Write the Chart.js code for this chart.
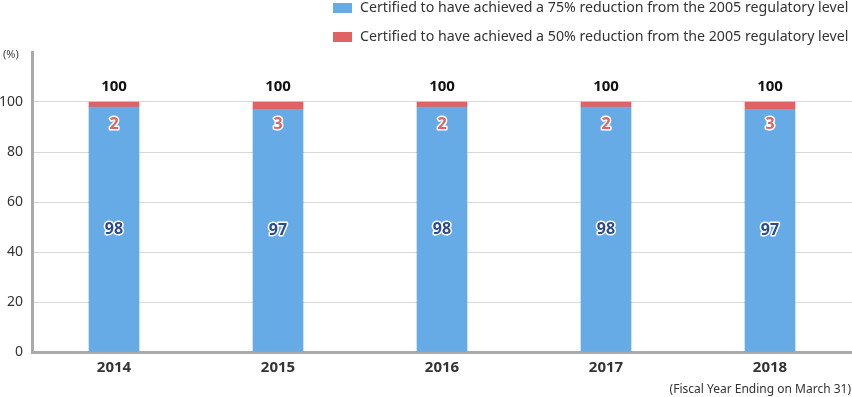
<!DOCTYPE html>
<html><head><meta charset="utf-8">
<script src="https://cdn.jsdelivr.net/npm/chart.js@4"></script>
<style>html,body{margin:0;padding:0;background:#fff}#wrap{width:852px;height:397px;position:relative}</style>
</head><body><div id="wrap"><canvas id="c"></canvas></div>
<script>
const categories = ["2014", "2015", "2016", "2017", "2018"];
const reduction75 = [98, 97, 98, 98, 97];
const reduction50 = [2, 3, 2, 2, 3];
const totals = [100, 100, 100, 100, 100];
const yTicks = [0, 20, 40, 60, 80, 100];
const seriesNames = [
  "Certified to have achieved a 75% reduction from the 2005 regulatory level",
  "Certified to have achieved a 50% reduction from the 2005 regulatory level"
];
const BLUE = "#66abe6", RED = "#e06262";
const FONT = "'Noto Sans', sans-serif";

const labelPlugin = {
  id: "labels",
  afterDatasetsDraw(chart) {
    const ctx = chart.ctx;
    const y = chart.scales.y;
    ctx.save();
    ctx.textAlign = "center";
    ctx.textBaseline = "middle";
    const m0 = chart.getDatasetMeta(0), m1 = chart.getDatasetMeta(1);
    m0.data.forEach((bar, i) => {
      const x = bar.x;
      ctx.font = "bold 15px " + FONT;
      ctx.fillStyle = "#111";
      ctx.fillText(String(totals[i]), x, m1.data[i].y - 15);
      ctx.font = "bold 16px " + FONT;
      ctx.lineJoin = "round";
      ctx.lineWidth = 3;
      ctx.strokeStyle = "#fff";
      const ym = (bar.y + bar.base) / 2;
      ctx.strokeText(String(reduction75[i]), x, ym);
      ctx.fillStyle = "#2c4a8e";
      ctx.fillText(String(reduction75[i]), x, ym);
      const yr = y.getPixelForValue(100) + 22;
      ctx.strokeText(String(reduction50[i]), x, yr);
      ctx.fillStyle = RED;
      ctx.fillText(String(reduction50[i]), x, yr);
    });
    ctx.textAlign = "left";
    ctx.font = "14.2px " + FONT;
    [[BLUE, 8], [RED, 37]].forEach((it, k) => {
      ctx.fillStyle = it[0];
      ctx.fillRect(333, it[1] - 5, 19, 10);
      ctx.fillStyle = "#333";
      ctx.fillText(seriesNames[k], 360, it[1]);
    });
    ctx.font = "11px " + FONT;
    ctx.fillStyle = "#444";
    ctx.fillText("(%)", 3, 55);
    ctx.font = "12px " + FONT;
    ctx.textAlign = "right";
    ctx.fillStyle = "#333";
    ctx.fillText("(Fiscal Year Ending on March 31)", 851, 390);
    ctx.restore();
  }
};

new Chart(document.getElementById("c"), {
  type: "bar",
  data: {
    labels: categories,
    datasets: [
      { label: seriesNames[0], data: reduction75, backgroundColor: BLUE, barThickness: 50 },
      { label: seriesNames[1], data: reduction50, backgroundColor: RED, barThickness: 50 }
    ]
  },
  options: {
    responsive: true, maintainAspectRatio: false, animation: false,
    layout: { padding: { top: 52, right: 0, left: 0, bottom: 0 } },
    plugins: { legend: { display: false }, tooltip: { enabled: false } },
    scales: {
      x: {
        stacked: true,
        grid: { display: false, drawTicks: false },
        border: { color: "#aaa", width: 3 },
        ticks: { color: "#333", font: { family: FONT, size: 15, weight: "bold" }, padding: 7 },
        afterFit(s) { s.height = 45; }
      },
      y: {
        stacked: true, min: 0, max: 120,
        afterBuildTicks(s) { s.ticks = yTicks.map(v => ({ value: v })); },
        grid: { color: "#d8d8d8", drawTicks: false },
        border: { color: "#aaa", width: 3 },
        ticks: { color: "#333", font: { family: FONT, size: 14 }, padding: 9 },
        afterFit(s) { s.width = 32; }
      }
    }
  },
  plugins: [labelPlugin]
});
</script></body></html>
